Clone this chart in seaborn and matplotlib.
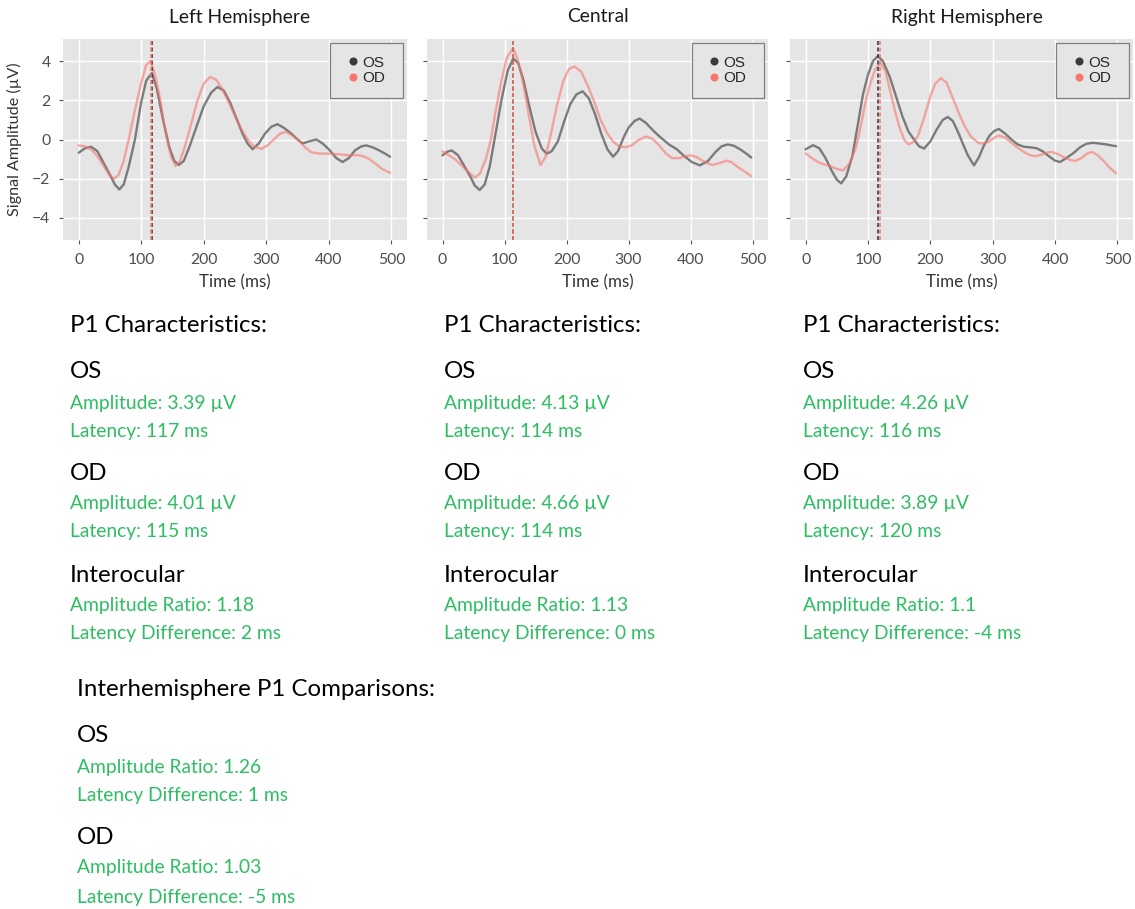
import pandas as pd
import numpy as np
import matplotlib
matplotlib.use("Agg")
import matplotlib.pyplot as plt
from matplotlib.lines import Line2D
from matplotlib.patches import Rectangle
import seaborn as sns

# --- DATA ---
REGIONS = ["Left Hemisphere", "Central", "Right Hemisphere"]
EYES = ["OS", "OD"]

left_os_t = [0, 10, 20, 30, 40, 50, 58, 65, 72, 80, 90, 100, 108, 117, 125, 135, 145, 153, 160, 168,
             178, 190, 200, 212, 222, 232, 242, 252, 262, 270, 278, 288, 298, 308, 318, 328, 340, 350,
             358, 368, 380, 390, 400, 412, 422, 432, 442, 452, 460, 470, 480, 490, 498]
left_os_v = [-0.68, -0.45, -0.37, -0.6, -1.2, -1.8, -2.3, -2.55, -2.3, -1.4, 0.0, 1.9, 3.0, 3.39, 2.6,
             1.0, -0.4, -1.1, -1.3, -1.1, -0.3, 0.8, 1.7, 2.4, 2.68, 2.5, 1.9, 1.1, 0.3, -0.2, -0.5,
             -0.2, 0.3, 0.65, 0.78, 0.6, 0.3, 0.0, -0.2, -0.1, 0.0, -0.2, -0.5, -0.95, -1.15, -0.95,
             -0.55, -0.35, -0.3, -0.4, -0.55, -0.72, -0.88]
left_od_t = [0, 10, 20, 30, 40, 50, 57, 64, 72, 80, 90, 100, 108, 115, 122, 130, 140, 148, 155, 162,
             170, 180, 190, 200, 210, 220, 230, 240, 250, 260, 270, 280, 292, 302, 312, 322, 332, 342,
             352, 362, 372, 385, 400, 415, 430, 445, 455, 465, 475, 485, 498]
left_od_v = [-0.3, -0.35, -0.5, -0.85, -1.35, -1.85, -2.0, -1.8, -1.1, 0.0, 1.5, 2.9, 3.8, 4.01, 3.3,
             2.1, 0.2, -0.9, -1.35, -1.1, -0.35, 0.8, 2.0, 2.85, 3.19, 3.05, 2.55, 1.9, 1.2, 0.55, 0.0,
             -0.35, -0.48, -0.3, 0.0, 0.3, 0.39, 0.2, -0.05, -0.4, -0.65, -0.72, -0.72, -0.75, -0.8,
             -0.8, -0.85, -1.0, -1.25, -1.5, -1.7]

central_os_t = [0, 8, 15, 25, 35, 45, 52, 60, 68, 76, 85, 95, 105, 114, 122, 130, 140, 150, 160, 168,
                176, 186, 196, 206, 216, 226, 236, 246, 256, 266, 275, 283, 292, 300, 310, 318, 328,
                340, 352, 365, 378, 390, 402, 415, 428, 440, 450, 460, 470, 480, 490, 498]
central_os_v = [-0.81, -0.62, -0.56, -0.8, -1.35, -1.9, -2.35, -2.58, -2.3, -1.4, 0.2, 2.0, 3.5, 4.13,
                3.9, 3.1, 1.7, 0.4, -0.45, -0.73, -0.6, -0.1, 0.9, 1.8, 2.3, 2.46, 2.1, 1.3, 0.3, -0.5,
                -0.88, -0.6, 0.1, 0.6, 0.95, 1.07, 0.85, 0.45, 0.1, -0.25, -0.5, -0.85, -1.15, -1.32,
                -1.1, -0.65, -0.35, -0.25, -0.32, -0.5, -0.72, -0.92]
central_od_t = [0, 10, 20, 30, 40, 52, 60, 70, 78, 86, 95, 104, 114, 122, 130, 140, 148, 158, 166,
                175, 185, 195, 204, 213, 224, 235, 245, 255, 265, 275, 285, 295, 305, 315, 328, 338,
                348, 360, 370, 382, 392, 400, 410, 420, 435, 448, 458, 466, 476, 488, 498]
central_od_v = [-0.6, -0.8, -1.0, -1.3, -1.6, -1.95, -1.75, -1.0, 0.0, 1.5, 3.0, 4.2, 4.66, 4.0, 2.9,
                1.1, -0.3, -1.3, -0.9, 0.3, 1.8, 3.0, 3.6, 3.73, 3.45, 2.7, 1.9, 1.0, 0.35, -0.1,
                -0.35, -0.4, -0.3, -0.05, 0.15, 0.05, -0.25, -0.7, -0.95, -0.95, -0.85, -0.81, -0.9,
                -1.1, -1.3, -1.2, -1.08, -1.15, -1.4, -1.65, -1.87]

right_os_t = [0, 12, 22, 32, 42, 50, 57, 65, 75, 84, 92, 100, 108, 116, 124, 135, 145, 155, 165, 175,
              182, 190, 200, 210, 220, 228, 236, 245, 252, 260, 270, 278, 286, 295, 303, 310, 320,
              330, 340, 350, 360, 370, 380, 390, 400, 408, 418, 430, 440, 450, 460, 470, 480, 490, 498]
right_os_v = [-0.5, -0.29, -0.45, -0.95, -1.6, -2.05, -2.24, -1.9, -0.85, 0.8, 2.3, 3.3, 4.0, 4.26,
              4.0, 3.2, 2.2, 1.2, 0.4, -0.05, -0.35, -0.46, -0.1, 0.5, 1.0, 1.15, 0.95, 0.34, -0.2,
              -0.8, -1.32, -0.9, -0.3, 0.2, 0.45, 0.54, 0.3, 0.0, -0.25, -0.37, -0.4, -0.44, -0.6,
              -0.85, -1.08, -1.15, -0.95, -0.68, -0.4, -0.22, -0.17, -0.2, -0.24, -0.3, -0.34]
right_od_t = [0, 10, 20, 30, 40, 50, 60, 70, 80, 88, 96, 104, 112, 120, 128, 135, 143, 150, 158, 165,
              172, 180, 190, 200, 208, 217, 226, 235, 245, 255, 265, 278, 288, 295, 303, 310, 320,
              330, 340, 350, 360, 368, 378, 388, 395, 405, 415, 425, 432, 442, 452, 460, 468, 478,
              488, 498]
right_od_v = [-0.71, -0.95, -1.15, -1.28, -1.36, -1.5, -1.58, -1.25, -0.5, 0.6, 1.9, 2.9, 3.6, 3.89,
              3.5, 2.55, 1.5, 0.68, 0.0, -0.25, -0.15, 0.17, 1.1, 2.2, 2.85, 3.14, 2.9, 2.2, 1.4,
              0.68, 0.15, -0.2, -0.18, -0.08, 0.1, 0.2, 0.1, -0.17, -0.42, -0.64, -0.8, -0.85, -0.78,
              -0.66, -0.64, -0.75, -0.92, -1.05, -1.1, -0.95, -0.7, -0.64, -0.8, -1.1, -1.45, -1.73]

# P1 peak values per region: [OS, OD]
p1_amplitude = [[3.39, 4.01], [4.13, 4.66], [4.26, 3.89]]
p1_latency = [[117, 115], [114, 114], [116, 120]]
interocular_ratio = ["1.18", "1.13", "1.1"]
interocular_latdiff = [2, 0, -4]

# Interhemisphere comparisons: OS, OD
inter_ratio = ["1.26", "1.03"]
inter_latdiff = [1, -5]

# --- BUILD TABLE ---
series = {
    ("Left Hemisphere", "OS"): (left_os_t, left_os_v),
    ("Left Hemisphere", "OD"): (left_od_t, left_od_v),
    ("Central", "OS"): (central_os_t, central_os_v),
    ("Central", "OD"): (central_od_t, central_od_v),
    ("Right Hemisphere", "OS"): (right_os_t, right_os_v),
    ("Right Hemisphere", "OD"): (right_od_t, right_od_v),
}
frames = []
for (region, eye), (t, v) in series.items():
    frames.append(pd.DataFrame({"time": t, "amp": v, "eye": eye, "region": region}))
df = pd.concat(frames, ignore_index=True)

# --- STYLE ---
sns.set_theme(style="darkgrid", rc={
    "axes.facecolor": "#E5E5E5",
    "grid.color": "white",
    "grid.linewidth": 1.0,
})
plt.rcParams["font.family"] = ["Lato", "DejaVu Sans"]

OS_COLOR = "#333333"
OD_COLOR = "#F8766D"
GREEN = "#2DBE62"
palette = {"OS": OS_COLOR, "OD": OD_COLOR}

W, H = 1135, 909
fig = plt.figure(figsize=(W / 100, H / 100), dpi=100)

axes_px = [(63, 407), (427, 768), (790, 1133)]
title_x = [240, 598, 967]
top_px, bot_px = 39, 240

for i, region in enumerate(REGIONS):
    x0, x1 = axes_px[i]
    ax = fig.add_axes([x0 / W, 1 - bot_px / H, (x1 - x0) / W, (bot_px - top_px) / H])
    sub = df[df["region"] == region]
    sns.lineplot(data=sub, x="time", y="amp", hue="eye", hue_order=EYES, palette=palette,
                 ax=ax, linewidth=1.7, alpha=0.6, legend=False, sort=False, estimator=None)
    ax.axvline(p1_latency[i][0], color=OS_COLOR, ls=(0, (2.2, 1.4)), lw=1.3, alpha=0.85)
    ax.axvline(p1_latency[i][1], color=OD_COLOR, ls=(0, (2.2, 1.4)), lw=1.3, alpha=0.85)

    ax.set_xlim(-25, 525)
    ax.set_ylim(-5.13, 5.13)
    ax.set_xticks([0, 100, 200, 300, 400, 500])
    ax.set_yticks([-4, -2, 0, 2, 4])
    ax.tick_params(axis="both", length=3, width=0.8, color="#555555", labelsize=11.3,
                   labelcolor="#4D4D4D", pad=6, bottom=True, left=True)
    for s in ax.spines.values():
        s.set_visible(False)
    ax.set_xlabel("Time (ms)", fontsize=12.2, color="#333333")
    ax.xaxis.set_label_coords(0.5, -0.17)
    if i == 0:
        ax.set_ylabel("Signal Amplitude (µV)", fontsize=11.6, color="#333333")
        ax.yaxis.set_label_coords(-0.12, 0.5)
    else:
        ax.set_ylabel("")
        ax.set_yticklabels([])

    # legend box
    ax.add_patch(Rectangle((0.776, 0.706), 0.212, 0.274, transform=ax.transAxes,
                           facecolor="#E5E5E5", edgecolor="#7F7F7F", lw=0.9, zorder=4))
    handles = [Line2D([], [], ls="", marker="o", ms=4.8, color="#3A3A3A"),
               Line2D([], [], ls="", marker="o", ms=4.8, color=OD_COLOR)]
    leg = ax.legend(handles, EYES, loc="center", bbox_to_anchor=(0.882, 0.843),
                    borderaxespad=0, frameon=False, prop={"family": ["Liberation Sans"], "size": 11},
                    handlelength=0.6, handletextpad=0.3, labelspacing=0.12, borderpad=0.0)
    leg.set_zorder(5)

    fig.text(title_x[i] / W, 1 - 17 / H, region, ha="center", va="center", fontsize=13.9,
             color="#1A1A1A")

# --- TEXT BLOCKS ---
HEAD = 17.3
BODY = 13.9


def put(x, y, s, size, color):
    fig.text(x / W, 1 - y / H, s, ha="left", va="center", fontsize=size, color=color)


col_x = [70, 444, 803]
for i in range(3):
    x = col_x[i]
    put(x, 326, "P1 Characteristics:", HEAD, "black")
    put(x, 371, "OS", HEAD, "black")
    put(x, 403, f"Amplitude: {p1_amplitude[i][0]:.2f} µV", BODY, GREEN)
    put(x, 431, f"Latency: {p1_latency[i][0]} ms", BODY, GREEN)
    put(x, 473, "OD", HEAD, "black")
    put(x, 504, f"Amplitude: {p1_amplitude[i][1]:.2f} µV", BODY, GREEN)
    put(x, 532, f"Latency: {p1_latency[i][1]} ms", BODY, GREEN)
    put(x, 575, "Interocular", HEAD, "black")
    put(x, 606, f"Amplitude Ratio: {interocular_ratio[i]}", BODY, GREEN)
    put(x, 634, f"Latency Difference: {interocular_latdiff[i]} ms", BODY, GREEN)

bx = 77
put(bx, 690, "Interhemisphere P1 Comparisons:", HEAD, "black")
put(bx, 736, "OS", HEAD, "black")
put(bx, 767, f"Amplitude Ratio: {inter_ratio[0]}", BODY, GREEN)
put(bx, 795, f"Latency Difference: {inter_latdiff[0]} ms", BODY, GREEN)
put(bx, 837, "OD", HEAD, "black")
put(bx, 868, f"Amplitude Ratio: {inter_ratio[1]}", BODY, GREEN)
put(bx, 897, f"Latency Difference: {inter_latdiff[1]} ms", BODY, GREEN)

fig.savefig("out.png", dpi=100, facecolor="white")
